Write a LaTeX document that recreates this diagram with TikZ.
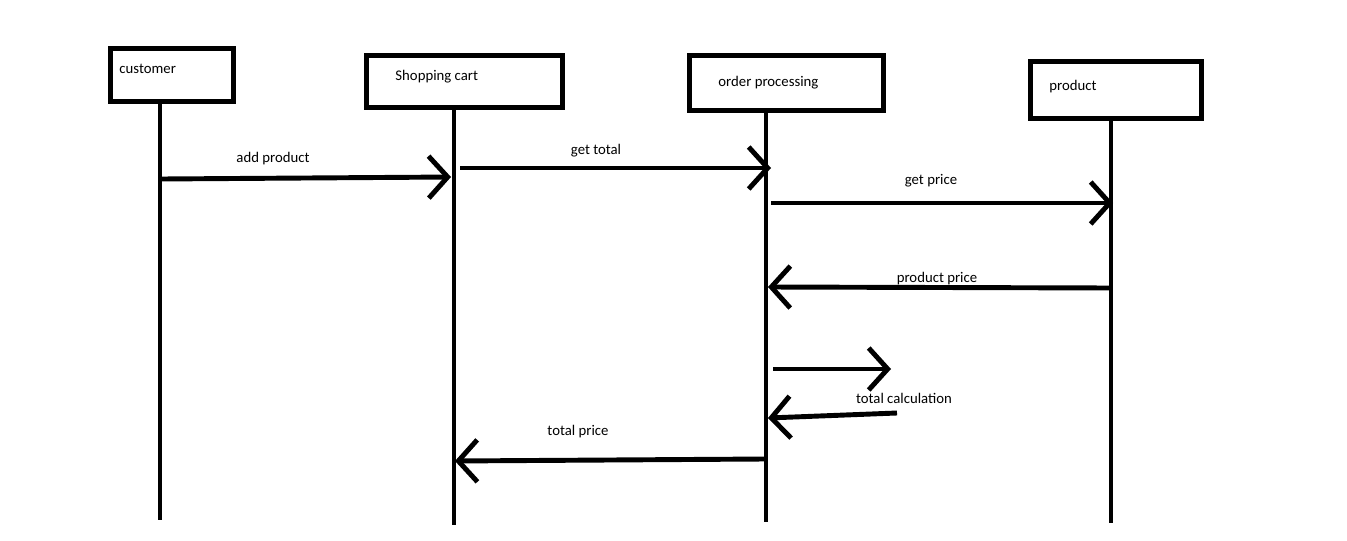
\documentclass[tikz,border=0pt]{standalone}
\usepackage{fontspec}
\setmainfont{Carlito}
\usetikzlibrary{arrows.meta}
\begin{document}
\begin{tikzpicture}[x=0.02cm, y=-0.02cm, line width=2.8pt,
    box/.style={draw, inner sep=0pt},
    lbl/.style={font=\fontsize{8.4}{10}\selectfont, inner sep=0pt},
    msg/.style={-{Straight Barb[length=0.38cm, width=0.84cm]}}]
    \useasboundingbox (0, 0) rectangle (1347, 541);

    \node [box, minimum width=2.47cm, minimum height=1.06cm] (customer) at (172, 75) {};
    \node [box, minimum width=3.92cm, minimum height=1.05cm] (cart) at (464.5, 81.3) {};
    \node [box, minimum width=3.88cm, minimum height=1.1cm] (order) at (786.5, 83) {};
    \node [box, minimum width=3.42cm, minimum height=1.14cm] (product) at (1116, 90) {};

    \node [lbl, anchor=west] (customertext) at (117, 69) {customer};
    \node [lbl, anchor=west] (carttext) at (393, 77) {Shopping cart};
    \node [lbl, anchor=west] (ordertext) at (716, 83) {order processing};
    \node [lbl, anchor=west] (producttext) at (1047, 87) {product};

    \coordinate (customerend) at (160, 520);
    \coordinate (cartend) at (454, 525);
    \coordinate (orderend) at (766, 522);
    \coordinate (productend) at (1111, 523);

    \draw (customer.south -| customerend) -- (customerend);
    \draw (cart.south -| cartend) -- (cartend);
    \draw (order.south -| orderend) -- (orderend);
    \draw (product.south -| productend) -- (productend);

    \coordinate (addfrom) at (162, 179);
    \coordinate (addto) at (451, 177);
    \coordinate (totalfrom) at (460, 168);
    \coordinate (totalto) at (771, 168);
    \coordinate (pricefrom) at (771, 203);
    \coordinate (priceto) at (1113, 203);
    \coordinate (prodpricefrom) at (1111, 288);
    \coordinate (prodpriceto) at (768, 287);
    \coordinate (calcfrom) at (773, 369);
    \coordinate (calcto) at (891, 369);
    \coordinate (backfrom) at (897, 413);
    \coordinate (backto) at (768, 418);
    \coordinate (sumfrom) at (765, 459);
    \coordinate (sumto) at (455, 461);

    \draw [msg] (addfrom) -- (addto);
    \draw [msg] (totalfrom) -- (totalto);
    \draw [msg] (pricefrom) -- (priceto);
    \draw [msg] (prodpricefrom) -- (prodpriceto);
    \draw [msg] (calcfrom) -- (calcto);
    \draw [msg] (backfrom) -- (backto);
    \draw [msg] (sumfrom) -- (sumto);

    \node [lbl] (addlabel) at (273, 159) {add product};
    \node [lbl] (totallabel) at (596, 151) {get total};
    \node [lbl] (pricelabel) at (931, 181) {get price};
    \node [lbl] (prodpricelabel) at (937, 279) {product price};
    \node [lbl] (calclabel) at (904, 398) {total calculation};
    \node [lbl] (sumlabel) at (578, 432) {total price};
  \end{tikzpicture}
\end{document}
